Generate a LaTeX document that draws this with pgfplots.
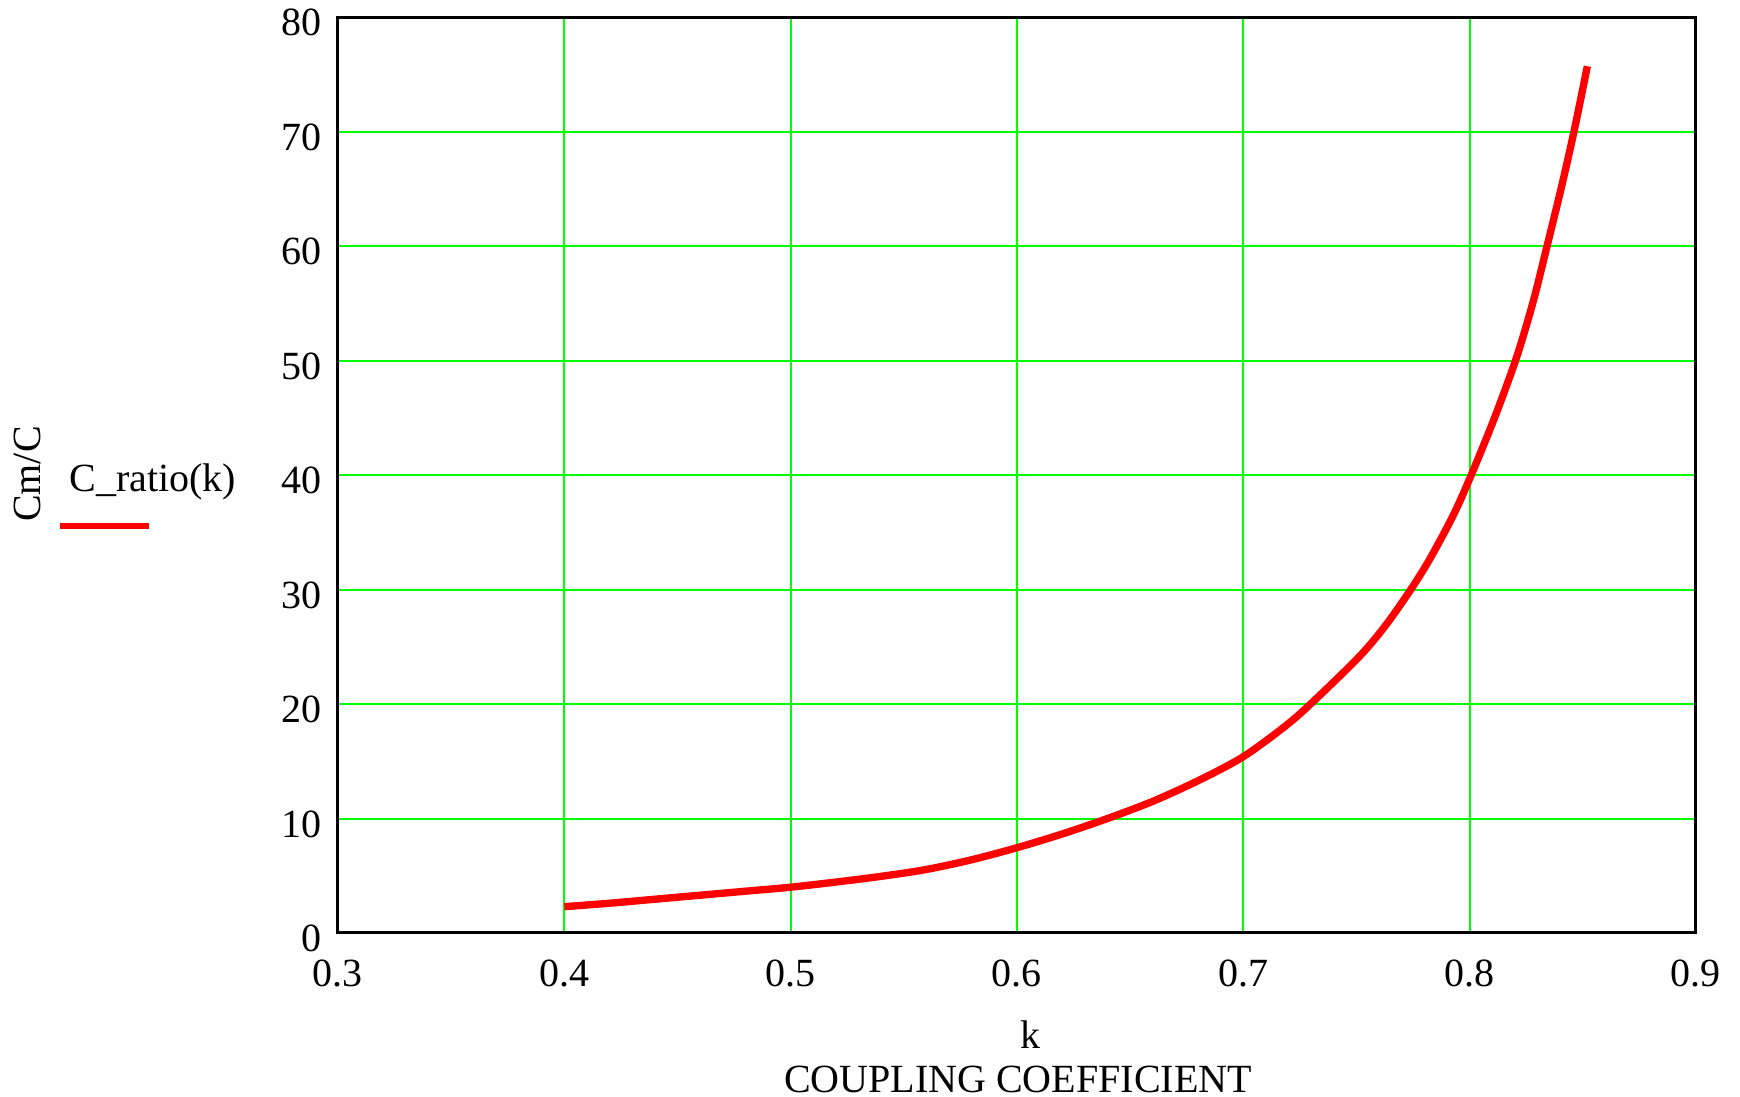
\documentclass[border=0pt]{standalone}
\usepackage{fontspec}
\setmainfont{Liberation Serif}
\usepackage{pgfplots}
\pgfplotsset{compat=1.18}
\definecolor{gridgreen}{RGB}{0,255,0}
\definecolor{curvered}{RGB}{255,0,0}
\begin{document}
\begin{tikzpicture}[font=\fontsize{12}{13.2}\selectfont]
\useasboundingbox (0,0) rectangle (522pt,329.1pt);
\begin{axis}[
  at={(101.4pt,49.2pt)}, anchor=south west,
  scale only axis, width=407.4pt, height=274.8pt,
  xmin=0.3, xmax=0.9, ymin=0, ymax=80,
  xtick={0.3,0.4,0.5,0.6,0.7,0.8,0.9},
  ytick={0,10,20,30,40,50,60,70,80},
  grid=major,
  major grid style={gridgreen, line width=0.6pt},
  major tick length=0pt,
  axis line style={black, line width=0.9pt},
  clip=false,
  /pgf/number format/assume math mode=true,
  xticklabel style={/pgf/number format/fixed, /pgf/number format/precision=1,
    /pgf/number format/fixed zerofill, anchor=center, yshift=-12pt},
  yticklabel style={anchor=east, inner xsep=0pt, xshift=-4.8pt, yshift=-1.7pt},
  xlabel={k},
  xlabel style={at={(rel axis cs:0.5096,-0.1114)}, anchor=center},
  ylabel={Cm/C},
  ylabel style={at={(rel axis cs:-0.229,0.501)}, anchor=center},
]
\addplot[curvered, line width=2.2pt, smooth, tension=0.5] coordinates {
(0.400,2.3) (0.420,2.6) (0.440,2.95) (0.460,3.3) (0.480,3.65)
(0.500,4.0) (0.520,4.45) (0.540,4.95) (0.560,5.55) (0.580,6.4)
(0.600,7.45) (0.620,8.65) (0.640,10.0) (0.660,11.5) (0.680,13.3)
(0.700,15.4) (0.720,18.3) (0.734,20.8) (0.752,24.3) (0.763,26.9)
(0.774,30.0) (0.7825,32.7) (0.7928,36.5) (0.8007,40.0) (0.811,45.0)
(0.8206,50.2) (0.828,55.1) (0.8342,60.0) (0.8405,65.1) (0.8461,70.0)
(0.852,75.7)
};
\node[anchor=center] at (rel axis cs:0.5007,-0.1594) {COUPLING COEFFICIENT};
\end{axis}
\node[anchor=base west, inner sep=0pt] at (20.7pt,181.6pt) {C\_ratio(k)};
\draw[curvered, line width=1.8pt] (18pt,171.3pt) -- (44.7pt,171.3pt);
\end{tikzpicture}
\end{document}
